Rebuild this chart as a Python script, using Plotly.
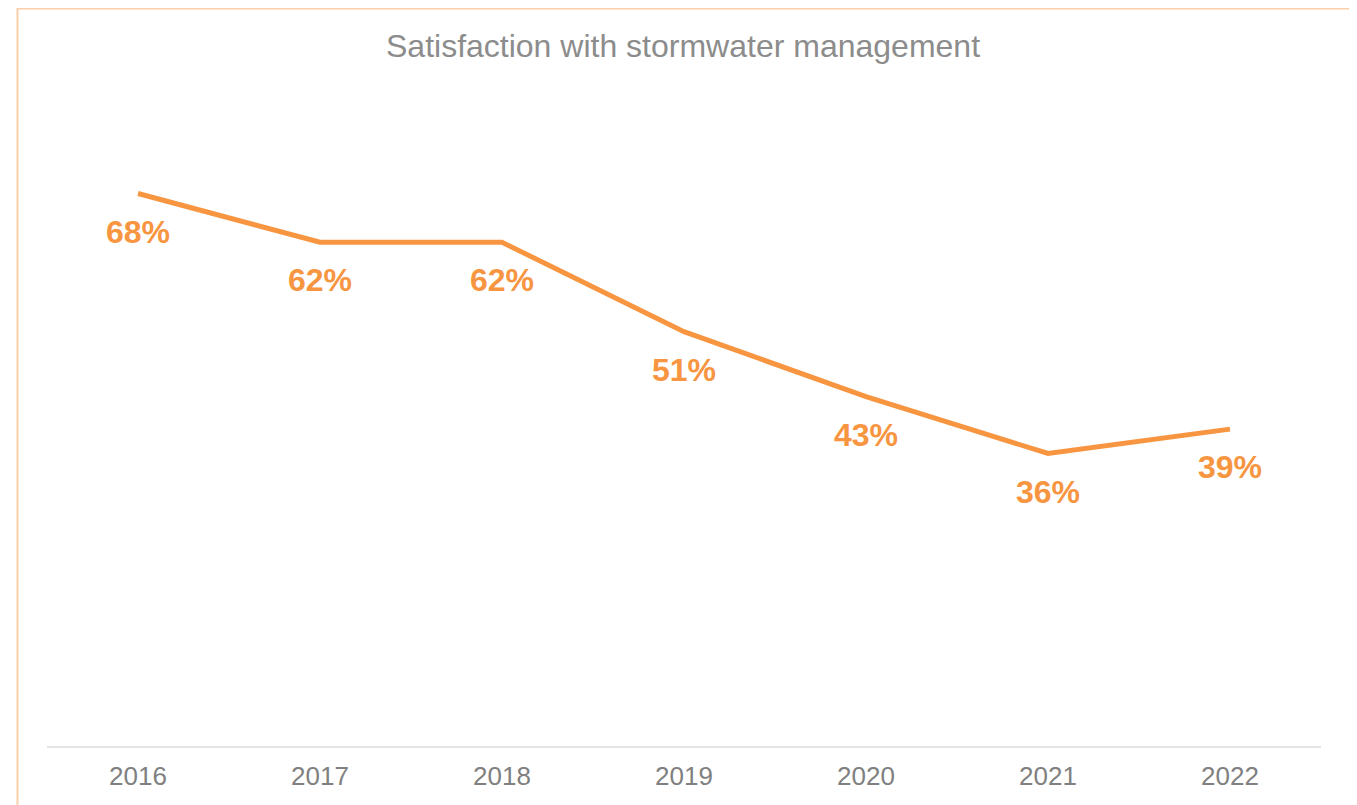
import plotly.graph_objects as go

years = ["2016", "2017", "2018", "2019", "2020", "2021", "2022"]
satisfaction = [68, 62, 62, 51, 43, 36, 39]
labels = [f"{v}%" for v in satisfaction]

ORANGE = "#F79541"
FONT = "Liberation Sans, Arial, sans-serif"

fig = go.Figure()
fig.add_trace(go.Scatter(
    x=years, y=satisfaction, mode="lines",
    line=dict(color=ORANGE, width=5),
    hoverinfo="skip", showlegend=False,
))

for i, (y, t) in enumerate(zip(satisfaction, labels)):
    fig.add_annotation(
        x=i, y=y, text=f"<b>{t}</b>", showarrow=False,
        yshift=-38, yanchor="middle", xanchor="center",
        font=dict(family=FONT, size=32, color=ORANGE),
    )

# page body has an 8px margin; work in figure coordinates = page - 8
OFF = 8
W, H = 1357 - OFF, 805 - OFF
L = 47 - OFF
R = 1357 - 1321
T = 96 - OFF
B = 805 - 746
pw, ph = W - L - R, H - T - B

# outer border
fig.add_shape(
    type="rect", xref="paper", yref="paper",
    x0=(17.5 - OFF - L) / pw, x1=(1350.5 - OFF - L) / pw,
    y0=(H - B - 830) / ph, y1=(H - B - 0.5) / ph,
    line=dict(color="#FBCFAA", width=2), fillcolor="rgba(0,0,0,0)",
    layer="below",
)

fig.update_layout(
    width=W, height=H,
    margin=dict(l=L, r=R, t=T, b=B),
    paper_bgcolor="white", plot_bgcolor="white",
    title=dict(
        text="Satisfaction with stormwater management",
        x=(683 - OFF) / W, xanchor="center",
        y=1 - (46 - OFF) / H, yanchor="middle",
        font=dict(family=FONT, size=32, color="#8C8C8C"),
    ),
    xaxis=dict(
        type="category", range=[-0.5, 6.5],
        showline=True, linecolor="#E4E4E4", linewidth=2,
        showgrid=False, zeroline=False, ticks="",
        tickfont=dict(family=FONT, size=26, color="#808080"),
        ticklabelstandoff=6,
    ),
    yaxis=dict(
        range=[0, 80], visible=False, showgrid=False, zeroline=False,
    ),
)

fig.write_html("out.html")
